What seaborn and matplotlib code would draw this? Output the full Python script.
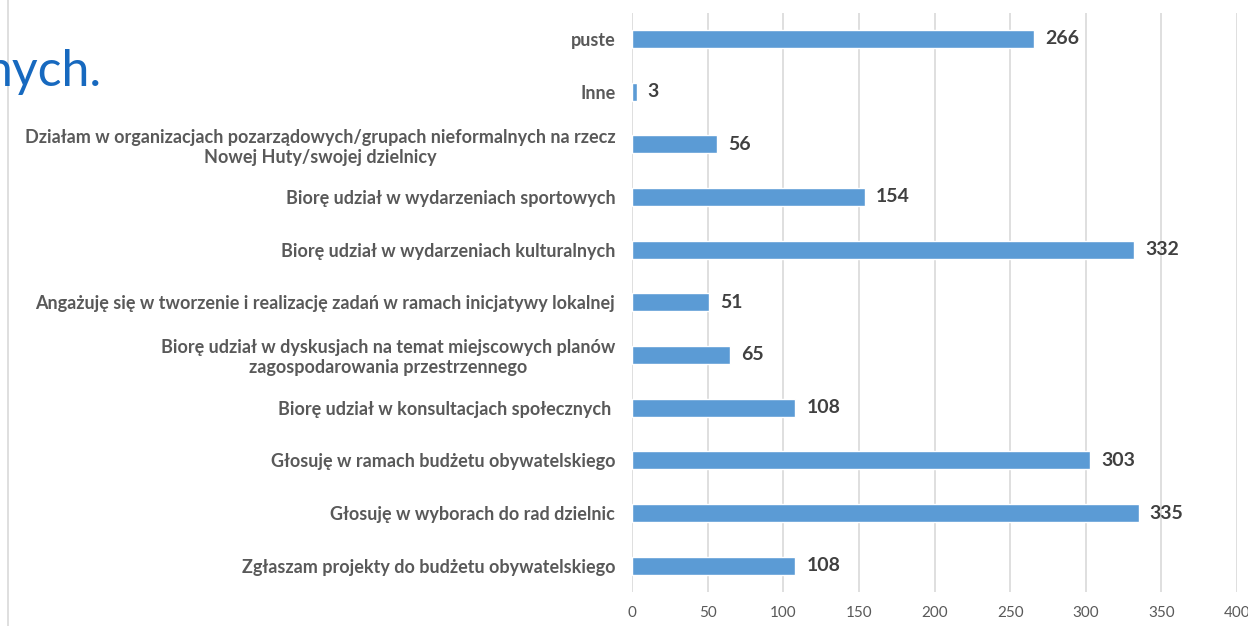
import matplotlib.pyplot as plt
import pandas as pd
import seaborn as sns
from matplotlib.lines import Line2D


categories = [
    "puste",
    "Inne",
    "Działam w organizacjach pozarządowych/grupach nieformalnych na rzecz\nNowej Huty/swojej dzielnicy",
    "Biorę udział w wydarzeniach sportowych",
    "Biorę udział w wydarzeniach kulturalnych",
    "Angażuję się w tworzenie i realizację zadań w ramach inicjatywy lokalnej",
    "Biorę udział w dyskusjach na temat miejscowych planów\nzagospodarowania przestrzennego",
    "Biorę udział w konsultacjach społecznych ",
    "Głosuję w ramach budżetu obywatelskiego",
    "Głosuję w wyborach do rad dzielnic",
    "Zgłaszam projekty do budżetu obywatelskiego",
]
counts = [266, 3, 56, 154, 332, 51, 65, 108, 303, 335, 108]
x_ticks = [0, 50, 100, 150, 200, 250, 300, 350, 400]

BAR_COLOR = "#5B9BD5"
LABEL_COLOR = "#595959"
VALUE_COLOR = "#404040"
GRID_COLOR = "#D9D9D9"

sns.set_theme(style="white")
plt.rcParams["font.family"] = ["Lato", "DejaVu Sans"]

df = pd.DataFrame({"category": categories, "count": counts})

fig = plt.figure(figsize=(12.48, 6.26), dpi=100)
ax = fig.add_axes([0.5064, 0.0543, 0.4848, 0.9255])

sns.barplot(
    data=df,
    x="count",
    y="category",
    orient="h",
    color=BAR_COLOR,
    saturation=1,
    width=0.34,
    ax=ax,
)

ax.bar_label(
    ax.containers[0],
    padding=8,
    fontsize=14,
    fontweight="bold",
    color=VALUE_COLOR,
)

ax.set_xlim(0, 400)
ax.set_ylim(len(categories) - 0.5, -0.5)
ax.set_xticks(x_ticks)
ax.set_xlabel("")
ax.set_ylabel("")

ax.grid(axis="x", color=GRID_COLOR, linewidth=1.2)
ax.set_axisbelow(True)
for spine in ax.spines.values():
    spine.set_visible(False)

ax.tick_params(axis="y", length=0, pad=12, labelsize=13, labelcolor=LABEL_COLOR)
ax.tick_params(axis="x", length=0, pad=10, labelsize=11, labelcolor=LABEL_COLOR)
for label in ax.get_yticklabels():
    label.set_fontweight("bold")
    label.set_multialignment("center")

# slide remnants: cut-off heading and the left border line
fig.text(-0.0126, 0.885, "nych.", fontsize=36, color="#1769BF", va="center", ha="left")
fig.add_artist(
    Line2D([0.0065, 0.0065], [0, 1], transform=fig.transFigure, color=GRID_COLOR, linewidth=1.2)
)

fig.savefig("out.png", dpi=100)
